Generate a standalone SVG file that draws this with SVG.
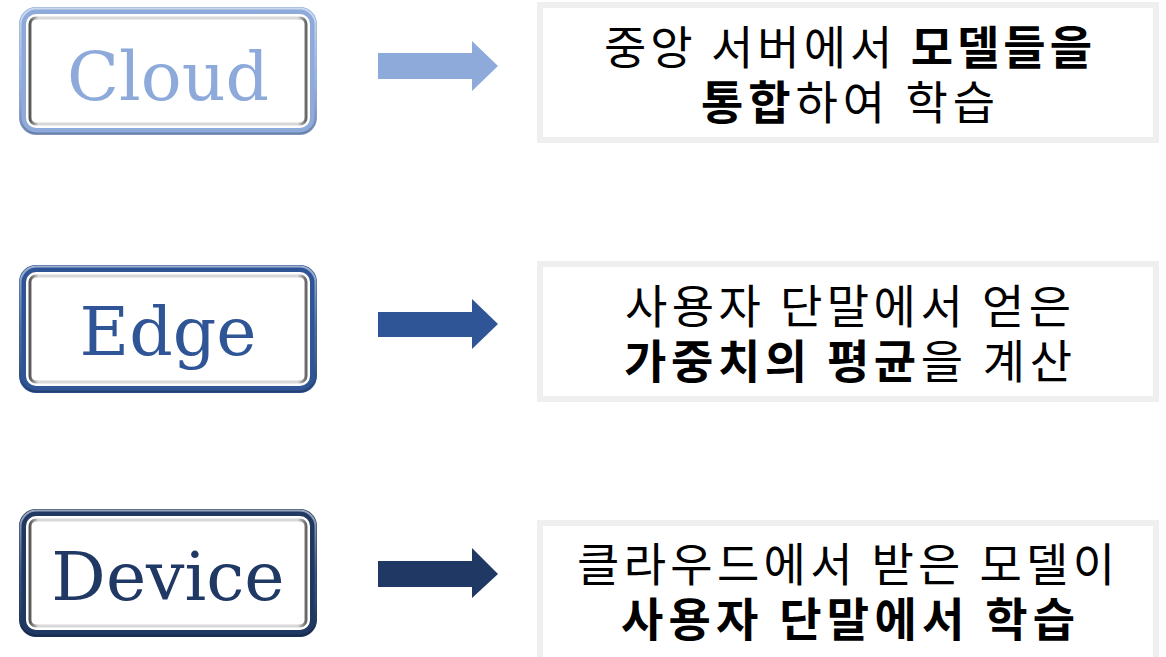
<svg xmlns="http://www.w3.org/2000/svg" width="1166" height="657" viewBox="0 0 1166 657">
<defs>
<linearGradient id="shadeH" x1="0" y1="0" x2="1" y2="0">
<stop offset="0" stop-color="#555"/>
<stop offset="0.03" stop-color="#d8d8d8"/>
<stop offset="0.97" stop-color="#d8d8d8"/>
<stop offset="1" stop-color="#666"/>
</linearGradient>
<linearGradient id="hl" x1="0" y1="0" x2="0" y2="1">
<stop offset="0" stop-color="#fff" stop-opacity="0.55"/>
<stop offset="0.5" stop-color="#fff" stop-opacity="0.15"/>
<stop offset="1" stop-color="#000" stop-opacity="0.25"/>
</linearGradient>
</defs>
<style>
.bg{fill:#fff}
.inner{fill:#fff}
.shade{fill:none;stroke:url(#shadeH);stroke-width:3}
.hl{fill:none;stroke:url(#hl);stroke-width:2}
.lbl{font-family:"DejaVu Serif","Liberation Serif",serif;font-size:68px;text-anchor:middle}
.tbox{fill:#fff;stroke:#efefef;stroke-width:6}
.kt{font-family:"Noto Sans CJK KR","Noto Sans",sans-serif;font-size:46px;text-anchor:middle;fill:#000}
.b{font-weight:bold}
</style>
<rect class="bg" width="1166" height="657"/>

<g id="cloud">
<rect x="19" y="7" width="298" height="128" rx="17" fill="#8eaadb"/>
<rect x="20.5" y="8.5" width="295" height="125" rx="16" class="hl"/>
<rect x="26" y="14" width="284" height="114" rx="10" class="inner"/>
<rect x="30" y="18" width="276" height="106" rx="6" class="shade"/>
<text class="lbl" x="168" y="100" fill="#8eaadb">Cloud</text>
</g>
<g id="edge">
<rect x="19" y="265" width="298" height="128" rx="17" fill="#2f5597"/>
<rect x="20.5" y="266.5" width="295" height="125" rx="16" class="hl"/>
<rect x="26" y="272" width="284" height="114" rx="10" class="inner"/>
<rect x="30" y="276" width="276" height="106" rx="6" class="shade"/>
<text class="lbl" x="168" y="355" fill="#2f5597">Edge</text>
</g>
<g id="device">
<rect x="19" y="509" width="298" height="128" rx="17" fill="#203864"/>
<rect x="20.5" y="510.5" width="295" height="125" rx="16" class="hl"/>
<rect x="26" y="516" width="284" height="114" rx="10" class="inner"/>
<rect x="30" y="520" width="276" height="106" rx="6" class="shade"/>
<text class="lbl" x="168" y="600" fill="#203864">Device</text>
</g>

<g id="connectors">
<polygon points="378,53 472,53 472,41 498,66 472,91 472,79 378,79" fill="#8eaadb"/>
<polygon points="378,312 472,312 472,299 498,324 472,349 472,337 378,337" fill="#2f5597"/>
<polygon points="378,561 472,561 472,548 498,574 472,598 472,587 378,587" fill="#203864"/>
</g>

<g id="desc-cloud">
<rect class="tbox" x="540" y="5" width="616" height="135"/>
<text class="kt" x="848" y="64" textLength="488" lengthAdjust="spacing">중앙 서버에서 <tspan class="b">모델들을</tspan></text>
<text class="kt" x="848" y="119" textLength="294" lengthAdjust="spacing"><tspan class="b">통합</tspan>하여 학습</text>
</g>
<g id="desc-edge">
<rect class="tbox" x="540" y="264" width="616" height="135"/>
<text class="kt" x="848" y="323" textLength="446" lengthAdjust="spacing">사용자 단말에서 얻은</text>
<text class="kt" x="848" y="378" textLength="448" lengthAdjust="spacing"><tspan class="b">가중치의 평균</tspan>을 계산</text>
</g>
<g id="desc-device">
<rect class="tbox" x="540" y="523" width="616" height="140"/>
<text class="kt" x="846" y="581" textLength="538" lengthAdjust="spacing">클라우드에서 받은 모델이</text>
<text class="kt" x="848" y="636" font-weight="bold" textLength="454" lengthAdjust="spacing">사용자 단말에서 학습</text>
</g>
</svg>
